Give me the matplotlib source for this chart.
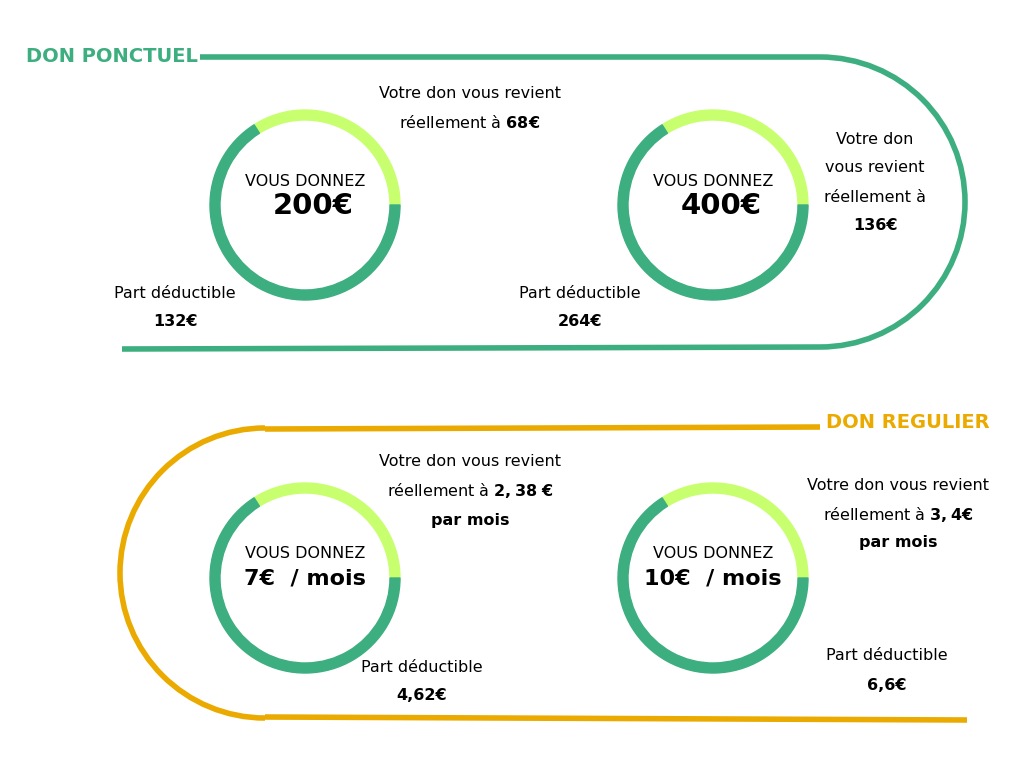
import matplotlib
matplotlib.use("Agg")
from matplotlib import pyplot as plt
from matplotlib.patches import Wedge, Arc

plt.rcParams['font.family'] = ['DejaVu Sans']

GREEN = "#3DAE7F"
LIGHT = "#C8FF6E"
ORANGE = "#EBAA00"

amounts = ["200€", "400€", "7€  / mois", "10€  / mois"]
donated = [200, 400, 7, 10]
real_cost = [68, 136, 2.38, 3.4]
deductible = [132, 264, 4.62, 6.6]
cost_labels = ["68€", "136€", "2,38\\ €", "3,4€"]
deduct_labels = ["132€", "264€", "4,62€", "6,6€"]

fig = plt.figure(figsize=(10.24, 7.68), dpi=100)
ax = fig.add_axes([0, 0, 1, 1])
ax.set_xlim(0, 1024)
ax.set_ylim(768, 0)
ax.axis("off")

# frames
ax.plot([200, 820], [57, 57], color=GREEN, lw=4, solid_capstyle="butt")
ax.plot([122, 820], [349, 347], color=GREEN, lw=4, solid_capstyle="butt")
ax.add_patch(Arc((820, 202), 290, 290, theta1=-90, theta2=90, color=GREEN, lw=4))
ax.text(112, 56, "DON PONCTUEL", color=GREEN, fontsize=14, fontweight="bold", ha="center", va="center")

ax.plot([265, 820], [429, 427], color=ORANGE, lw=4, solid_capstyle="butt")
ax.plot([265, 967], [717, 720], color=ORANGE, lw=4, solid_capstyle="butt")
ax.add_patch(Arc((265, 573), 290, 290, theta1=90, theta2=270, color=ORANGE, lw=4))
ax.text(908, 423, "DON REGULIER", color=ORANGE, fontsize=14, fontweight="bold", ha="center", va="center")

centers = [(305, 205), (713, 205), (305, 578), (713, 578)]
for i, (cx, cy) in enumerate(centers):
    frac = real_cost[i] / donated[i]
    ang = 360 * frac
    ax.add_patch(Wedge((cx, cy), 95, -ang, 0, width=10, color=LIGHT))
    ax.add_patch(Wedge((cx, cy), 95, 0, 360 - ang, width=10, color=GREEN))
    ax.text(cx, cy - 24, "VOUS DONNEZ", fontsize=11.5, ha="center", va="center")
    ax.text(cx + (8 if i < 2 else 0), cy + 1, amounts[i], fontsize=21 if i < 2 else 16,
            fontweight="bold", ha="center", va="center")

kw = dict(fontsize=11.5, ha="center", va="center")
bk = dict(fontsize=11.5, ha="center", va="center", fontweight="bold")
# top left
ax.text(470, 94, "Votre don vous revient", **kw)
ax.text(470, 123, f"réellement à $\\bf{{{cost_labels[0]}}}$", **kw)
ax.text(175, 293, "Part déductible", **kw)
ax.text(175, 322, deduct_labels[0], **bk)
# top right
ax.text(875, 139, "Votre don", **kw)
ax.text(875, 168, "vous revient", **kw)
ax.text(875, 197, "réellement à", **kw)
ax.text(875, 226, cost_labels[1], **bk)
ax.text(580, 293, "Part déductible", **kw)
ax.text(580, 322, deduct_labels[1], **bk)
# bottom left
ax.text(470, 462, "Votre don vous revient", **kw)
ax.text(470, 491, f"réellement à $\\bf{{{cost_labels[2]}}}$", **kw)
ax.text(470, 520, "par mois", **bk)
ax.text(422, 667, "Part déductible", **kw)
ax.text(422, 696, deduct_labels[2], **bk)
# bottom right
ax.text(898, 485, "Votre don vous revient", **kw)
ax.text(898, 514, f"réellement à $\\bf{{{cost_labels[3]}}}$", **kw)
ax.text(898, 543, "par mois", **bk)
ax.text(887, 656, "Part déductible", **kw)
ax.text(887, 685, deduct_labels[3], **bk)

fig.savefig("out.png", dpi=100)
